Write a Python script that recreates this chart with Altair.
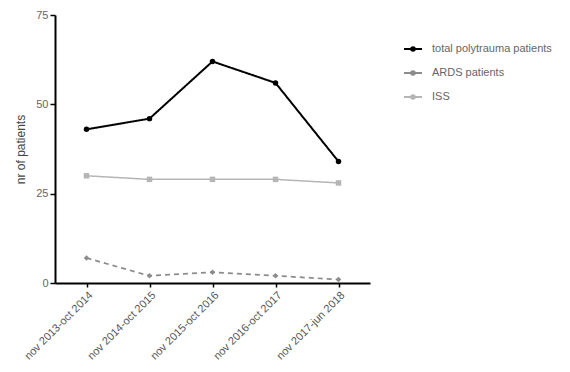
import altair as alt
import pandas as pd

periods = ["nov 2013-oct 2014", "nov 2014-oct 2015", "nov 2015-oct 2016",
           "nov 2016-oct 2017", "nov 2017-jun 2018"]
series_names = ["total polytrauma patients", "ARDS patients", "ISS"]
total = [43, 46, 62, 56, 34]
ards = [7, 2, 3, 2, 1]
iss = [30, 29, 29, 29, 28]

rows = []
for name, vals in zip(series_names, [total, ards, iss]):
    for p, v in zip(periods, vals):
        rows.append({"period": p, "series": name, "marker": name, "value": v})
df = pd.DataFrame(rows)

colors = ["#000000", "#8c8c8c", "#b5b5b5"]
font = "Liberation Sans"

x = alt.X("period:N", sort=periods, title=None,
          scale=alt.Scale(type="point", padding=0.5),
          axis=alt.Axis(labelAngle=-45, labelAlign="right", labelBaseline="top",
                        labelFontSize=11, labelColor="#555", domainColor="#000",
                        domainWidth=2, tickColor="#000", tickWidth=1.5, tickSize=4,
                        labelPadding=2, labelFont=font))
y = alt.Y("value:Q", title="nr of patients",
          scale=alt.Scale(domain=[0, 75], nice=False),
          axis=alt.Axis(values=[0, 25, 50, 75], grid=False, labelFontSize=11,
                        labelColor="#666", domainColor="#000", domainWidth=2,
                        tickColor="#000", tickWidth=1.5, tickSize=5, labelPadding=2,
                        titleFontSize=12, titleFontWeight="normal", titleColor="#444",
                        titlePadding=8, labelFont=font, titleFont=font))
color = alt.Color("series:N", sort=series_names,
                  scale=alt.Scale(domain=series_names, range=colors),
                  legend=alt.Legend(title=None, orient="none", legendX=348, legendY=24,
                                    labelFontSize=11, labelColor="#666",
                                    labelFont=font, labelOffset=9,
                                    symbolStrokeWidth=2, symbolSize=324,
                                    rowPadding=8,
                                    symbolType="M-1,0H1M-0.2,0A0.2,0.2 0 1,0 0.2,0A0.2,0.2 0 1,0 -0.2,0"))
dash = alt.StrokeDash("series:N", sort=series_names,
                      scale=alt.Scale(domain=series_names,
                                      range=[[1, 0], [5, 4], [1, 0]]),
                      legend=None)
swidth = alt.StrokeWidth("series:N",
                         scale=alt.Scale(domain=series_names, range=[2, 1.5, 1.5]),
                         legend=None)
shape = alt.Shape("marker:N",
                  scale=alt.Scale(domain=series_names,
                                  range=["circle", "diamond", "square"]),
                  legend=None)

base = alt.Chart(df)
lines = base.mark_line().encode(x=x, y=y, color=color, strokeDash=dash, strokeWidth=swidth)
points = base.mark_point(filled=True, size=30, opacity=1).encode(
    x=x, y=y,
    color=alt.Color("marker:N", scale=alt.Scale(domain=series_names, range=colors),
                    legend=None),
    shape=shape)

chart = alt.layer(lines, points).resolve_scale(color="independent").properties(
    width=315, height=268,
    background="white",
    autosize=alt.AutoSizeParams(type="none"),
    padding={"left": 47, "top": 7, "right": 190, "bottom": 80},
).configure_view(stroke=None)

chart.save("out.html", embed_options={"renderer": "svg", "actions": False})
